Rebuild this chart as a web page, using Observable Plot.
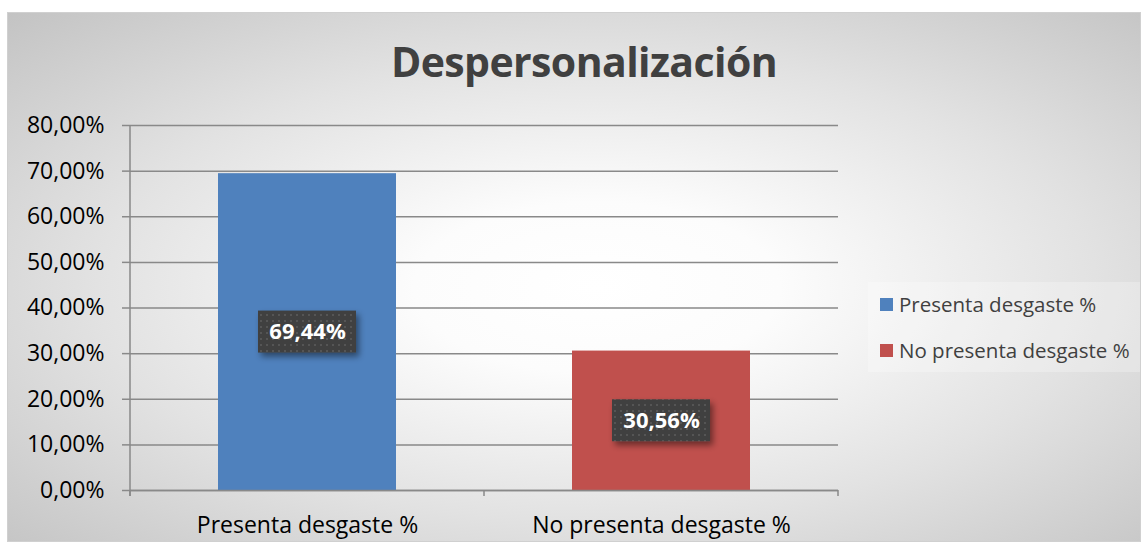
<!DOCTYPE html>
<html>
<head>
<meta charset="utf-8">
<script src="https://cdn.jsdelivr.net/npm/d3@7"></script>
<script src="https://cdn.jsdelivr.net/npm/@observablehq/plot@0.6"></script>
<style>
  html, body { margin: 0; padding: 0; background: #fff; }
  #wrap { position: relative; width: 1147px; height: 549px; overflow: hidden; background: #fff; }
  #frame { position: absolute; left: 7px; top: 12px; width: 1132px; height: 528px;
    border: 1px solid #d0d0d0;
    background: radial-gradient(ellipse farthest-corner at 52% 52%, #ffffff 0%, #fcfcfc 22%, #e2e2e2 60%, #c3c3c3 100%); }
  #chart { position: absolute; left: 0; top: 0; }
  #title { position: absolute; left: 0; width: 1168px; top: 41px; text-align: center;
    font-family: "Open Sans", sans-serif; font-weight: 700; font-size: 41px; color: #404040; line-height: 1; letter-spacing: -0.6px; }
  #legendbox { position: absolute; left: 868px; top: 282px; width: 272px; height: 90px; background: rgba(255,255,255,0.25); }
  #legend { position: absolute; left: 880px; top: 281px; font-family: "Open Sans", sans-serif; font-size: 20.5px; color: #404040; }
  .li { display: flex; align-items: center; height: 46px; }
  .sw { width: 13px; height: 13px; margin-right: 6px; }
</style>
</head>
<body>
<div id="wrap">
  <div id="frame"></div>
  <div id="legendbox"></div>
  <div id="chart"></div>
  <div id="title">Despersonalización</div>
  <div id="legend"></div>
</div>
<script>
const categories = ["Presenta desgaste %", "No presenta desgaste %"];
const values = [0.6944, 0.3056];
const colors = ["#4f81bd", "#c0504d"];
const yTicks = [0, 0.1, 0.2, 0.3, 0.4, 0.5, 0.6, 0.7, 0.8];

const data = categories.map((c, i) => ({cat: c, value: values[i]}));
const loc = d3.formatLocale({decimal: ",", thousands: ".", grouping: [3], currency: ["", "€"]});
const fmt = loc.format(".2%");

const M = {left: 130, right: 309, top: 125, bottom: 59};
const W = 1147, H = 549;

function edgeTicks(index, scales, values, dims) {
  const d = dims || {};
  const ml = d.marginLeft ?? M.left, mr = d.marginRight ?? M.right;
  const mt = d.marginTop ?? M.top, mb = d.marginBottom ?? M.bottom;
  const w = d.width ?? W, h = d.height ?? H;
  const g = d3.create("svg:g").attr("stroke", "#898989").attr("stroke-width", 1.5);
  const y0 = h - mb;
  g.append("line").attr("x1", ml).attr("x2", ml).attr("y1", mt).attr("y2", y0 + 6);
  const n = categories.length;
  const step = (w - ml - mr) / n;
  for (let i = 0; i <= n; i++) {
    const x = ml + i * step;
    g.append("line").attr("x1", x).attr("x2", x).attr("y1", y0).attr("y2", y0 + 6);
  }
  return g.node();
}

function labelBoxes(index, scales) {
  const g = d3.create("svg:g");
  const bw = (scales.x && typeof scales.x.bandwidth === "function") ? scales.x.bandwidth() : 0;
  data.forEach(d => {
    const cx = scales.x(d.cat) + bw / 2;
    const cy = scales.y(d.value / 2);
    g.append("rect").attr("x", cx - 49).attr("y", cy - 21).attr("width", 98).attr("height", 42)
      .attr("fill", "url(#dots)").attr("filter", "url(#shadow)");
  });
  return g.node();
}

const plot = Plot.plot({
  width: W, height: H,
  marginLeft: M.left, marginRight: M.right, marginTop: M.top, marginBottom: M.bottom,
  style: {background: "transparent", fontFamily: "Open Sans, sans-serif", color: "#000", overflow: "visible"},
  x: {domain: categories, paddingInner: 0.497, paddingOuter: 0.2485, label: null},
  y: {domain: [0, 0.8], label: null},
  color: {domain: categories, range: colors},
  marks: [
    Plot.gridY(yTicks, {stroke: "#898989", strokeOpacity: 1, strokeWidth: 1.5}),
    Plot.axisY(yTicks, {tickFormat: fmt, tickSize: 8, tickPadding: 18, fontSize: 23, stroke: "#898989", strokeWidth: 1.5, fill: "#000", label: null}),
    Plot.barY(data, {x: "cat", y: "value", fill: "cat", style: "filter: drop-shadow(0 0 5px rgba(0,0,0,0.12))"}),
    Plot.ruleY([0], {stroke: "#898989", strokeWidth: 1.5}),
    edgeTicks,
    labelBoxes,
    Plot.text(data, {x: "cat", y: d => d.value / 2, text: d => fmt(d.value), fill: "#fff", fontWeight: "bold", fontSize: 22}),
    Plot.axisX({tickSize: 0, tickPadding: 26, fontSize: 23, fill: "#000", label: null})
  ]
});

const defs = d3.select(plot).insert("defs", ":first-child");
const pat = defs.append("pattern").attr("id", "dots").attr("patternUnits", "userSpaceOnUse").attr("width", 6).attr("height", 6);
pat.append("rect").attr("width", 6).attr("height", 6).attr("fill", "#404040");
pat.append("rect").attr("x", 2).attr("y", 2).attr("width", 2).attr("height", 2).attr("fill", "#555555");
const f = defs.append("filter").attr("id", "shadow").attr("x", "-20%").attr("y", "-30%").attr("width", "150%").attr("height", "180%");
f.append("feDropShadow").attr("dx", 3).attr("dy", 4).attr("stdDeviation", 3).attr("flood-color", "#000").attr("flood-opacity", 0.45);

document.getElementById("chart").appendChild(plot);

const legend = document.getElementById("legend");
categories.forEach((c, i) => {
  const row = document.createElement("div");
  row.className = "li";
  const sw = document.createElement("span");
  sw.className = "sw";
  sw.style.background = colors[i];
  const t = document.createElement("span");
  t.textContent = c;
  row.appendChild(sw); row.appendChild(t);
  legend.appendChild(row);
});
</script>
</body>
</html>
